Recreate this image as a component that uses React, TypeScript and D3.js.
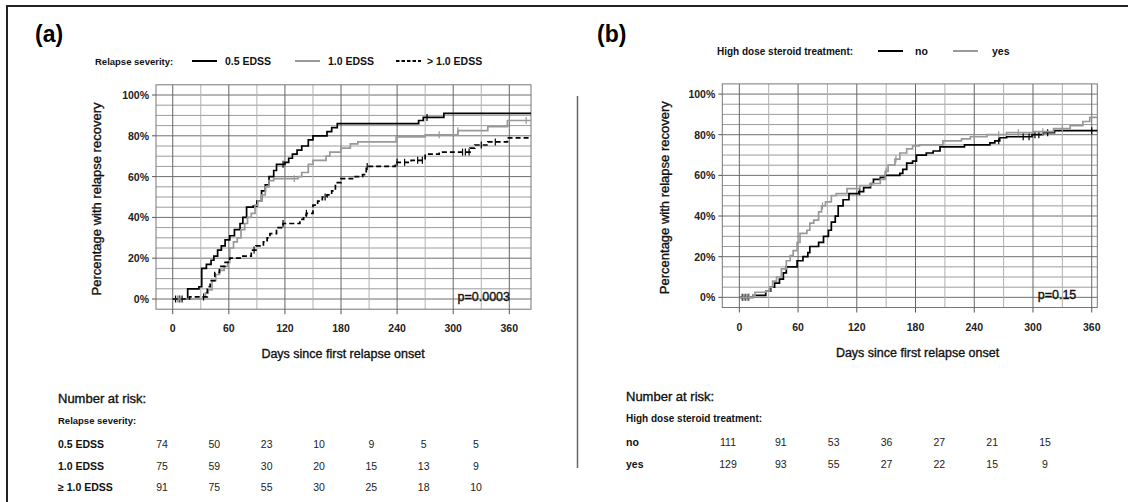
import React, { useEffect, useRef } from 'react';
import * as d3 from 'd3';

// Kaplan-Meier steps: [day, % recovered after the step]
const sevHalf = [[0,0],[16,5],[28,6],[31,15],[36,17],[41,19],[44,21],[48,24],[52,26],[56,29],[61,31],[66,34],[72,37],[75,40],[79,45],[86,45.5],[90,48],[95,53],[99,56],[103,60],[108,63],[111,66],[120,67],[124,69],[128,71],[133,73],[138,75],[145,78],[150,80],[165,82],[170,84],[176,86],[263,87.5],[268,89],[290,91]];
const sevOne = [[0,0],[32,1],[35,3],[38,4.5],[42,9],[46,12],[50,14],[55,16],[59,18],[61,25],[65,28],[69,30],[73,34],[77,37],[80,40],[84,42],[88,46],[91,48],[95,51],[99,55],[103,58],[108,59],[134,60],[138,62],[145,66],[150,68],[164,70],[168,72],[180,74],[190,76],[198,77],[239,79.5],[270,80.5],[305,82.5],[337,84.5],[358,87.5]];
const sevMore = [[0,0],[18,1],[37,6],[40,9],[45,13],[50,16],[56,18],[61,20],[75,21],[84,24],[89,26],[97,28],[101,30],[104,32],[111,35],[118,37],[136,39],[140,41],[143,42],[150,46],[155,48],[160,50],[165,51],[170,53],[174,57],[180,59],[194,60],[203,61],[207,65],[238,67],[255,68],[270,71],[285,72],[318,74],[323,75.5],[337,77],[358,79]];
const sevHalfCens = [3, 7, 10, 118, 272];
const sevOneCens = [5, 8, 130, 285, 305, 378];
const sevMoreCens = [33, 87, 118, 143, 163, 208, 240, 248, 262, 267, 310, 313, 317, 330, 345];

const sterNo = [[0,0],[14,1],[27,3],[32,5],[36,7],[41,9],[45,12],[48,15],[59,18],[65,20],[70,22],[72,25],[81,27],[86,30],[91,33],[94,37],[98,40],[101,45],[106,48],[112,51],[122,52],[127,54],[134,56],[137,58],[144,59],[149,60],[164,61],[167,63],[171,66],[177,67],[181,70],[191,71],[198,72],[205,74],[230,75],[256,76],[261,77],[266,78.5],[273,79],[299,80],[310,81],[322,82]];
const sterYes = [[0,0],[14,1],[16,2.5],[27,3],[31,5],[34,8],[38,10],[43,14],[48,18],[52,20.5],[55,23],[59,27],[62,31.5],[69,33],[72,36.5],[76,38],[81,42],[84,45],[88,47],[94,50],[99,51],[110,53.5],[123,55],[134,56],[144,58],[149,62],[152,65],[159,68],[164,71],[171,73],[177,74.5],[184,75],[208,77],[227,78],[236,79],[253,80],[273,81],[300,81.5],[321,83],[338,84.5],[351,86.5],[358,88.5]];
const sterNoCens = [3, 6, 9, 123, 265, 290, 296, 302, 306, 315, 360];
const sterYesCens = [4, 7, 10, 85, 150, 160, 240, 265, 285, 310, 330];

const xTicks = [0, 60, 120, 180, 240, 300, 360];
const yTicks = [0, 20, 40, 60, 80, 100];

const riskSevLabels = ['0.5 EDSS', '1.0 EDSS', '\u2265 1.0 EDSS'];
const riskSev = [[74, 50, 23, 10, 9, 5, 5], [75, 59, 30, 20, 15, 13, 9], [91, 75, 55, 30, 25, 18, 10]];
const riskSterLabels = ['no', 'yes'];
const riskSter = [[111, 91, 53, 36, 27, 21, 15], [129, 93, 55, 27, 22, 15, 9]];

const F = "'Liberation Sans', Arial, sans-serif";

type Series = { pts: number[][]; cens: number[]; color: string; dash: string | null };

// slightly heavier than regular, like the medium sans in the figure
const medium = (t: any) => t.attr('stroke', '#111').attr('stroke-width', 0.35);

function drawPanel(svg: any, o: any) {
  const x = d3.scaleLinear().domain(o.xDom).range([o.left, o.right]);
  const y = d3.scaleLinear().domain([-5, 105]).range([o.bottom, o.top]);
  const g = svg.append('g');

  // grid
  d3.range(0, 101, 5).forEach((v) => {
    g.append('line').attr('x1', o.left).attr('x2', o.right).attr('y1', y(v)).attr('y2', y(v))
      .attr('stroke', v % 20 === 0 ? '#6e6e6e' : '#9c9c9c').attr('stroke-width', 1);
  });
  d3.range(0, 361, 30).forEach((v) => {
    g.append('line').attr('y1', o.top).attr('y2', o.bottom).attr('x1', x(v)).attr('x2', x(v))
      .attr('stroke', v % 60 === 0 ? '#666' : '#b0b0b0').attr('stroke-width', 1);
  });
  g.append('rect').attr('x', o.left).attr('y', o.top).attr('width', o.right - o.left)
    .attr('height', o.bottom - o.top).attr('fill', 'none').attr('stroke', '#777');

  // ticks
  yTicks.forEach((v) => {
    g.append('line').attr('x1', o.left - 4).attr('x2', o.left).attr('y1', y(v)).attr('y2', y(v)).attr('stroke', '#555');
    g.append('text').attr('x', o.left - 7).attr('y', y(v) + 4).attr('text-anchor', 'end')
      .attr('font-family', F).attr('font-weight', 'bold').attr('font-size', 10.5).attr('fill', '#222').text(v + '%');
  });
  xTicks.forEach((v) => {
    g.append('line').attr('x1', x(v)).attr('x2', x(v)).attr('y1', o.bottom).attr('y2', o.bottom + 5).attr('stroke', '#555');
    g.append('text').attr('x', x(v)).attr('y', o.bottom + 23).attr('text-anchor', 'middle')
      .attr('font-family', F).attr('font-weight', 'bold').attr('font-size', 10.5).attr('fill', '#222').text(v);
  });

  // curves
  const line = d3.line<number[]>().x((d) => x(d[0])).y((d) => y(d[1])).curve(d3.curveStepAfter);
  o.series.forEach((s: Series) => {
    const last = s.pts[s.pts.length - 1];
    const pts = [...s.pts, [o.xDom[1], last[1]]];
    const path = g.append('path').attr('d', line(pts)).attr('fill', 'none')
      .attr('stroke', s.color).attr('stroke-width', 1.7);
    if (s.dash) path.attr('stroke-dasharray', s.dash);
    const valAt = (t: number) => {
      let v = 0;
      s.pts.forEach((p) => { if (p[0] <= t) v = p[1]; });
      return v;
    };
    s.cens.forEach((t) => {
      g.append('line').attr('x1', x(t)).attr('x2', x(t)).attr('y1', y(valAt(t)) - 3.5).attr('y2', y(valAt(t)) + 3.5)
        .attr('stroke', s.color).attr('stroke-width', 1.2);
    });
  });

  // p value
  medium(g.append('text').attr('x', o.right - 21).attr('y', y(-1)).attr('text-anchor', 'end')
    .attr('font-family', F).attr('font-size', 12.5).attr('fill', '#111').text(o.p));

  // axis titles
  medium(g.append('text').attr('transform', `translate(${o.yLabX},${(o.top + o.bottom) / 2 + 2}) rotate(-90)`)
    .attr('text-anchor', 'middle').attr('font-family', F).attr('font-size', 13).attr('fill', '#111')
    .text('Percentage with relapse recovery'));
  medium(g.append('text').attr('x', (x(0) + x(360)) / 2 + 2).attr('y', o.bottom + 49).attr('text-anchor', 'middle')
    .attr('font-family', F).attr('font-size', 12.5).attr('fill', '#111').text('Days since first relapse onset'));

  // panel tag
  g.append('text').attr('x', o.tagX).attr('y', 42).attr('font-family', F).attr('font-weight', 'bold')
    .attr('font-size', 23).attr('fill', '#000').text(o.tag);

  // legend
  g.append('text').attr('x', o.legX).attr('y', o.legY + 3.5).attr('font-family', F).attr('font-weight', 'bold')
    .attr('font-size', o.legFs).attr('fill', '#111').text(o.legTitle);
  o.legItems.forEach((it: any) => {
    const l = g.append('line').attr('x1', it.x).attr('x2', it.x + 25).attr('y1', o.legY).attr('y2', o.legY)
      .attr('stroke', it.color).attr('stroke-width', 2);
    if (it.dash) l.attr('stroke-dasharray', '3.5,2');
    g.append('text').attr('x', it.tx).attr('y', o.legY + 3.5).attr('font-family', F).attr('font-weight', 'bold')
      .attr('font-size', 10.5).attr('fill', '#111').text(it.label);
  });

  // number at risk table
  const col = d3.scalePoint<number>().domain(d3.range(7)).range(o.colRange);
  medium(g.append('text').attr('x', o.tabX).attr('y', o.tabY).attr('font-family', F).attr('font-size', 13)
    .attr('fill', '#111').text('Number at risk:'));
  g.append('text').attr('x', o.tabX).attr('y', o.tabY + 21).attr('font-family', F).attr('font-weight', 'bold')
    .attr('font-size', o.legFs).attr('fill', '#111').text(o.legTitle);
  o.riskLabels.forEach((lab: string, r: number) => {
    const yy = o.tabY + 45 + r * 21.5;
    g.append('text').attr('x', o.tabX).attr('y', yy).attr('font-family', F).attr('font-weight', 'bold')
      .attr('font-size', 10.5).attr('fill', '#111').text(lab);
    o.risk[r].forEach((n: number, i: number) => {
      g.append('text').attr('x', col(i)).attr('y', yy).attr('text-anchor', 'middle').attr('font-family', F)
        .attr('font-size', 10.5).attr('fill', '#222').text(n);
    });
  });
}

const App = () => {
  const ref = useRef<SVGSVGElement>(null);

  useEffect(() => {
    const svg = d3.select(ref.current);
    svg.selectAll('*').remove();
    svg.append('rect').attr('width', 1128).attr('height', 502).attr('fill', '#fff');

    // frame
    svg.append('path').attr('d', 'M7,502 L7,6 L1128,6').attr('fill', 'none').attr('stroke', '#222').attr('stroke-width', 2);
    svg.append('line').attr('x1', 577.5).attr('x2', 577.5).attr('y1', 96).attr('y2', 468)
      .attr('stroke', '#666').attr('stroke-width', 1.5);

    drawPanel(svg, {
      left: 156, right: 531, top: 84.8, bottom: 309.2, xDom: [-17.9, 383.2],
      series: [
        { pts: sevHalf, cens: sevHalfCens, color: '#000', dash: null },
        { pts: sevOne, cens: sevOneCens, color: '#999', dash: null },
        { pts: sevMore, cens: sevMoreCens, color: '#000', dash: '5,3' },
      ],
      p: 'p=0.0003', yLabX: 101, tag: '(a)', tagX: 35,
      legTitle: 'Relapse severity:', legX: 95, legY: 61, legFs: 9.5,
      legItems: [
        { x: 192, tx: 225, color: '#000', label: '0.5 EDSS' },
        { x: 295, tx: 328, color: '#999', label: '1.0 EDSS' },
        { x: 396, tx: 427, color: '#000', dash: true, label: '> 1.0 EDSS' },
      ],
      tabX: 58, tabY: 403, colRange: [162, 476], riskLabels: riskSevLabels, risk: riskSev,
    });

    drawPanel(svg, {
      left: 722.3, right: 1097.3, top: 83.9, bottom: 307.5, xDom: [-17.4, 365.7],
      series: [
        { pts: sterNo, cens: sterNoCens, color: '#000', dash: null },
        { pts: sterYes, cens: sterYesCens, color: '#999', dash: null },
      ],
      p: 'p=0.15', yLabX: 669, tag: '(b)', tagX: 597,
      legTitle: 'High dose steroid treatment:', legX: 717, legY: 51, legFs: 10,
      legItems: [
        { x: 878, tx: 915, color: '#000', label: 'no' },
        { x: 953, tx: 992, color: '#999', label: 'yes' },
      ],
      tabX: 626, tabY: 401, colRange: [728, 1045], riskLabels: riskSterLabels, risk: riskSter,
    });
  }, []);

  return (
    <svg ref={ref} width={1128} height={502} style={{ position: 'absolute', left: 0, top: 0 }} />
  );
};

export default App;
